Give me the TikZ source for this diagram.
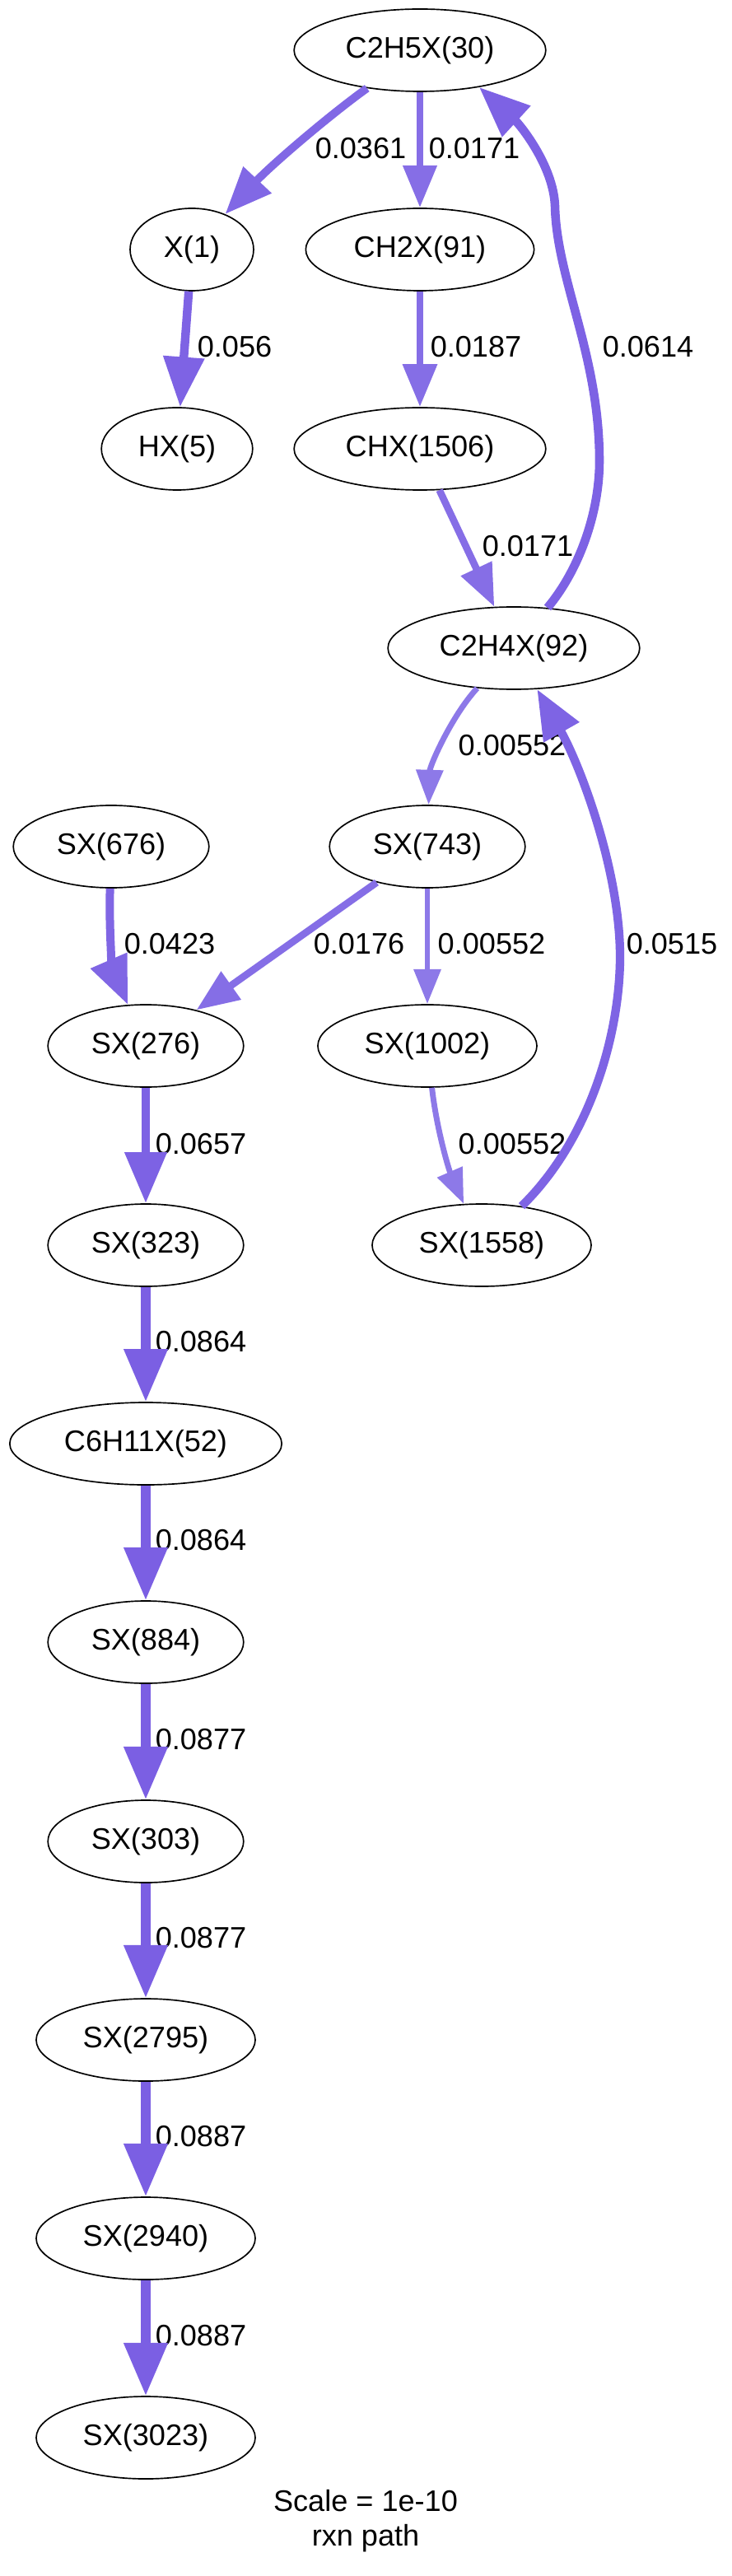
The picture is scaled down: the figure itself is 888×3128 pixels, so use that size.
\documentclass[tikz,border=0pt]{standalone}
\usepackage{fontspec}
\setmainfont{Liberation Sans}
\usetikzlibrary{shapes.geometric,arrows.meta}

\definecolor{fluxhi}{RGB}{123,95,227}
\definecolor{fluxlo}{RGB}{141,121,232}

\tikzstyle{species} = [ellipse,draw,line width=0.6pt,inner xsep=6.4pt,inner ysep=3pt,minimum height=36pt,minimum width=54pt]
\tikzstyle{rate} = [inner sep=0pt]
\tikzset{flux/.style 2 args={line width=#1pt,draw=fluxhi!#2!fluxlo,-{Triangle[length=2pt 5.3,width=0pt 4.6]}}}

\begin{document}
\begin{tikzpicture}[x=0.36pt,y=-0.36pt,every node/.style={font=\fontsize{13}{15}\selectfont}]
	\useasboundingbox (0,0) rectangle (888,3128);

	\node[species] (s30) at (510,61) {C2H5X(30)};
	\node[species] (s1) at (233,303) {X(1)};
	\node[species] (s91) at (510,303) {CH2X(91)};
	\node[species] (s5) at (215,545) {HX(5)};
	\node[species] (s1506) at (510,545) {CHX(1506)};
	\node[species] (s92) at (624,787) {C2H4X(92)};
	\node[species] (s676) at (135,1028) {SX(676)};
	\node[species] (s743) at (519,1028) {SX(743)};
	\node[species] (s276) at (177,1270) {SX(276)};
	\node[species] (s1002) at (519,1270) {SX(1002)};
	\node[species] (s323) at (177,1512) {SX(323)};
	\node[species] (s1558) at (585,1512) {SX(1558)};
	\node[species] (s52) at (177,1753) {C6H11X(52)};
	\node[species] (s884) at (177,1994) {SX(884)};
	\node[species] (s303) at (177,2236) {SX(303)};
	\node[species] (s2795) at (177,2477) {SX(2795)};
	\node[species] (s2940) at (177,2718) {SX(2940)};
	\node[species] (s3023) at (177,2960) {SX(3023)};

	\node[rate] (f1) at (438,180) {0.0361};
	\node[rate] (f2) at (576,180) {0.0171};
	\node[rate] (f3) at (285,421) {0.056};
	\node[rate] (f4) at (578,421) {0.0187};
	\node[rate] (f5) at (787,421) {0.0614};
	\node[rate] (f6) at (641,663) {0.0171};
	\node[rate] (f7) at (622,905) {0.00552};
	\node[rate] (f8) at (206,1146) {0.0423};
	\node[rate] (f9) at (436,1146) {0.0176};
	\node[rate] (f10) at (597,1146) {0.00552};
	\node[rate] (f11) at (816,1146) {0.0515};
	\node[rate] (f12) at (244,1389) {0.0657};
	\node[rate] (f13) at (622,1389) {0.00552};
	\node[rate] (f14) at (244,1629) {0.0864};
	\node[rate] (f15) at (244,1870) {0.0864};
	\node[rate] (f16) at (244,2112) {0.0877};
	\node[rate] (f17) at (244,2353) {0.0877};
	\node[rate] (f18) at (244,2594) {0.0887};
	\node[rate] (f19) at (244,2836) {0.0887};

	\node[align=center] (cap) at (444,3061) {Scale = 1e-10\\rxn path};

	\draw[flux={3.51}{67}] (s30) .. controls (400,140) and (330,200) .. (s1);
	\draw[flux={3.11}{41}] (s30) -- (s91);
	\draw[flux={3.75}{83}] (s1) -- (s5);
	\draw[flux={3.16}{44}] (s91) -- (s1506);
	\draw[flux={3.11}{41}] (s1506) -- (s92);
	\draw[flux={3.80}{87}] (s92) .. controls (705,690) and (728,620) .. (728,560) .. controls (728,430) and (676,340) .. (674,250) .. controls (672,200) and (630,150) .. (s30.-32);
	\draw[flux={2.5}{0}] (s92) .. controls (548,870) and (522,930) .. (s743);
	\draw[flux={3.60}{73}] (s676) .. controls (132,1140) and (138,1180) .. (s276);
	\draw[flux={3.13}{42}] (s743) -- (s276);
	\draw[flux={2.5}{0}] (s743) -- (s1002);
	\draw[flux={2.5}{0}] (s1002) .. controls (530,1370) and (545,1420) .. (s1558);
	\draw[flux={3.71}{81}] (s1558) .. controls (715,1385) and (752,1260) .. (753,1165) .. controls (754,1060) and (705,930) .. (s92);
	\draw[flux={3.84}{89}] (s276) -- (s323);
	\draw[flux={3.98}{99}] (s323) -- (s52);
	\draw[flux={3.98}{99}] (s52) -- (s884);
	\draw[flux={3.99}{99}] (s884) -- (s303);
	\draw[flux={3.99}{99}] (s303) -- (s2795);
	\draw[flux={4.0}{100}] (s2795) -- (s2940);
	\draw[flux={4.0}{100}] (s2940) -- (s3023);
\end{tikzpicture}
\end{document}
